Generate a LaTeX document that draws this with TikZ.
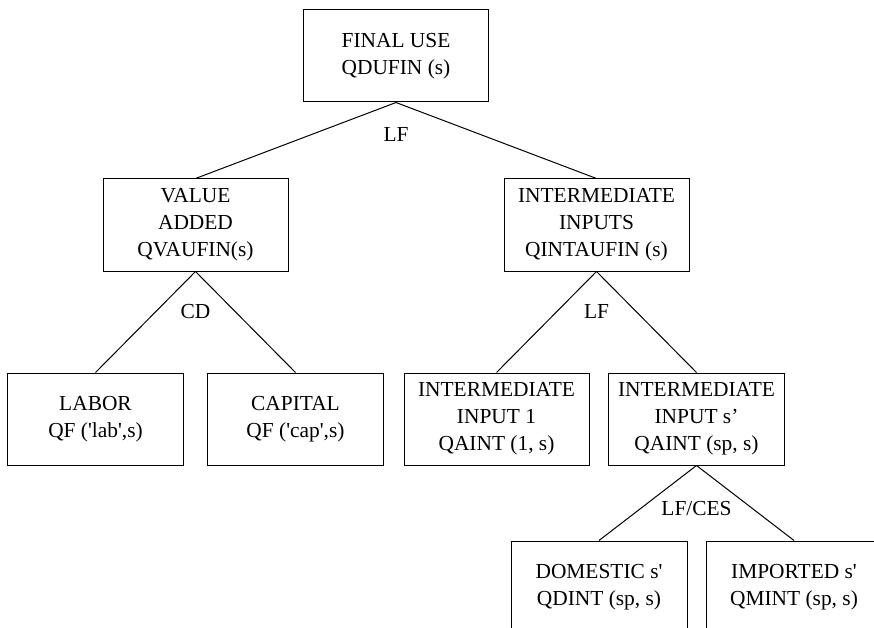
\documentclass[tikz,border=0pt]{standalone}
\usepackage{fontspec}
\setmainfont{Liberation Serif}
\usetikzlibrary{trees,positioning}

\begin{document}
\begin{tikzpicture}[
			x=1pt, y=1pt,
			font=\fontsize{21.4}{27}\selectfont,
			level 1/.style={level distance=169pt, sibling distance=401pt},
			level 2/.style={level distance=194pt, sibling distance=200pt},
			level 3/.style={level distance=168pt, sibling distance=195pt},
			edge from parent/.style={draw, line width=1pt},
			edge from parent path={(\tikzparentnode.south) -- (\tikzchildnode.north)},
			every node/.style={draw, rectangle, line width=1pt, align=center, minimum width=185pt, minimum height=92pt, inner sep=2pt},
			leaf/.style={minimum width=176pt},
			lbl/.style={draw=none, minimum width=0pt, minimum height=0pt, inner sep=0pt}
			]
			\useasboundingbox (0,0) rectangle (874,-628);
			\node (fin) at (396,-56) {FINAL USE\\QDUFIN (s)}
			child {node (va) {VALUE\\ADDED\\QVAUFIN(s)}
				child {node[leaf] (lab) {LABOR\\QF (\textquotesingle lab\textquotesingle,s)}}
				child {node[leaf] (cap) {CAPITAL\\QF (\textquotesingle cap\textquotesingle,s)}}
			}
			child {node (int) {INTERMEDIATE\\INPUTS\\QINTAUFIN (s)}
				child {node (intone) {INTERMEDIATE\\INPUT 1\\QAINT (1, s)}}
				child {node[leaf] (ints) {INTERMEDIATE\\INPUT s’\\QAINT (sp, s)}
					child {node[leaf] (dom) {DOMESTIC s\textquotesingle\\QDINT (sp, s)}}
					child {node[leaf] (imp) {IMPORTED s\textquotesingle\\QMINT (sp, s)}}
				}
			};
			% nesting functions
			\node[lbl, below=24pt of fin] (lffin) {LF};
			\node[lbl, below=32pt of va] (cdva) {CD};
			\node[lbl, below=32pt of int] (lfint) {LF};
			\node[lbl, below=35pt of ints] (lfces) {LF/CES};
		\end{tikzpicture}
\end{document}
